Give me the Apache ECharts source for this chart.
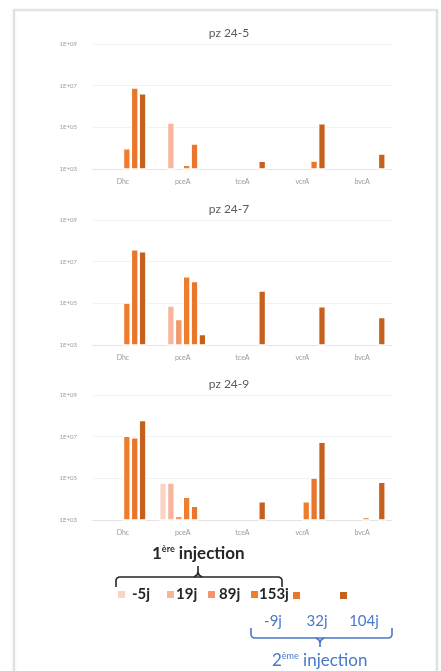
<!DOCTYPE html>
<html>
<head>
<meta charset="utf-8">
<script src="https://cdn.jsdelivr.net/npm/echarts@6/dist/echarts.min.js"></script>
<style>
  html, body { margin: 0; padding: 0; background: #fff; }
  #chart { width: 441px; height: 671px; }
</style>
</head>
<body>
<div id="chart"></div>
<script>
const categories = ["Dhc", "pceA", "tceA", "vcrA", "bvcA"];
const sampleNames = ["-5j", "19j", "89j", "153j", "32j", "104j"];
const secondInjectionLabels = ["-9j", "32j", "104j"];
const panelTitles = ["pz 24-5", "pz 24-7", "pz 24-9"];
const yMin = 1e3;
const yMax = 1e9;

// rows = sample dates (sampleNames order), columns = genes (categories order)
const pz245 = [
    [null, null, null, null, null],
    [null, 1.7e5, null, null, null],
    [null, null, null, null, null],
    [1.0e4, 1.6e3, null, null, null],
    [8.3e6, 1.7e4, null, 2.6e3, null],
    [4.4e6, null, 2.5e3, 1.6e5, 5.6e3]
];
const pz247 = [
    [null, null, null, null, null],
    [null, 7.9e4, null, null, null],
    [null, 1.8e4, null, null, null],
    [1.1e5, 2.0e6, null, null, null],
    [4.0e7, 1.2e6, null, null, null],
    [3.2e7, 3.4e3, 4.2e5, 7.3e4, 2.2e4]
];
const pz249 = [
    [null, 6.4e4, null, null, null],
    [null, 6.4e4, null, null, null],
    [null, 1.6e3, null, null, null],
    [1.1e7, 1.3e4, null, 7.9e3, 1.4e3],
    [9.4e6, 4.9e3, null, 1.1e5, null],
    [6.3e7, null, 7.9e3, 5.7e6, 6.9e4]
];

const panels = [pz245, pz247, pz249];
const colors = ["#fad3c5", "#f7b59c", "#f4956a", "#ef7d2e", "#e8762b", "#c5601f"];

const chart = echarts.init(document.getElementById("chart"));

const gridTops = [44, 220, 395];
const FONT = "Lato, 'Open Sans', sans-serif";

const grids = gridTops.map(t => ({
    left: 93, top: t, width: 299, height: 125
}));

const titles = panelTitles.map((t, i) => ({
    text: t,
    left: 229,
    textAlign: "center",
    top: gridTops[i] - 17,
    padding: 0,
    textStyle: { fontSize: 12, fontWeight: "normal", color: "#5a5a5a", fontFamily: FONT }
}));

const xAxes = panels.map((p, i) => ({
    type: "category",
    gridIndex: i,
    data: categories,
    axisTick: { show: false },
    axisLine: { lineStyle: { color: "#e4e4e4" } },
    axisLabel: { fontSize: 7, color: "#9a9a9a", margin: 9, fontFamily: FONT }
}));

const yAxes = panels.map((p, i) => ({
    type: "log",
    gridIndex: i,
    logBase: 10,
    min: yMin,
    max: yMax,
    interval: 2,
    axisLine: { show: false },
    axisTick: { show: false },
    splitLine: { lineStyle: { color: "#eef2f5" } },
    axisLabel: {
        fontSize: 6,
        color: "#9a9a9a",
        margin: 16,
        fontFamily: FONT,
        formatter: v => "1E+" + String(Math.round(Math.log10(v))).padStart(2, "0")
    }
}));

const series = [];
panels.forEach((panel, pi) => {
    panel.forEach((vals, si) => {
        series.push({
            name: sampleNames[si],
            type: "bar",
            xAxisIndex: pi,
            yAxisIndex: pi,
            data: vals.map(v => (v == null ? "-" : v)),
            barGap: "0%",
            barCategoryGap: "21%",
            clip: true,
            itemStyle: { color: colors[si], borderColor: "#fff", borderWidth: 1.3 }
        });
    });
});

// one legend per item, so the squares sit where they are in the picture
const legendLefts = [118, 167, 208, 251, 293, 340];
const legendTextPad = [2, -3, -1, -4, 0, 0];
const legends = sampleNames.map((n, i) => ({
    data: [n],
    left: legendLefts[i],
    top: i < 4 ? 587 : 592,
    padding: 0,
    icon: "rect",
    itemWidth: 7,
    itemHeight: 7,
    itemGap: 0,
    selectedMode: false,
    itemStyle: { borderWidth: 0 },
    formatter: i < 4 ? "{name}" : () => "",
    textStyle: {
        fontSize: 15, fontWeight: "bold", color: "#262626", fontFamily: FONT,
        padding: [0, 0, 0, legendTextPad[i]]
    }
}));

const BLUE = "#4a78c8";

const graphic = [
    {
        type: "rect",
        shape: { x: 14, y: 10, width: 423, height: 700 },
        style: { fill: "none", stroke: "#d2d2d2", lineWidth: 1.2, shadowBlur: 3, shadowColor: "rgba(0,0,0,0.15)" },
        silent: true
    },
    {
        type: "text",
        x: 152, y: 545,
        style: {
            text: "{a|1}{s|ère}{a| injection}",
            rich: {
                a: { fontSize: 17, fontWeight: "bold", fill: "#262626", fontFamily: FONT },
                s: { fontSize: 9, fontWeight: "bold", fill: "#262626", fontFamily: FONT, verticalAlign: "top", padding: [0, 0, 8, 0] }
            }
        }
    },
    {
        type: "polyline",
        shape: { points: [[116, 587], [116, 580], [117, 578], [119, 577], [279, 577], [281, 578], [282, 580], [282, 587]] },
        style: { fill: "none", stroke: "#262626", lineWidth: 1.6 }
    },
    {
        type: "polyline",
        shape: { points: [[194, 577], [197, 575], [198, 572], [198, 566], [198, 572], [199, 575], [202, 577]] },
        style: { fill: "none", stroke: "#262626", lineWidth: 1.6 }
    },
    {
        type: "polyline",
        shape: { points: [[251, 628], [251, 635], [252, 637], [254, 638], [389, 638], [391, 637], [392, 635], [392, 628]] },
        style: { fill: "none", stroke: BLUE, lineWidth: 1.6 }
    },
    {
        type: "polyline",
        shape: { points: [[316, 638], [319, 640], [320, 643], [320, 647], [320, 643], [321, 640], [324, 638]] },
        style: { fill: "none", stroke: BLUE, lineWidth: 1.6 }
    },
    {
        type: "text",
        x: 272, y: 652,
        style: {
            text: "{a|2}{s|ème}{a| injection}",
            rich: {
                a: { fontSize: 17, fill: BLUE, fontFamily: FONT },
                s: { fontSize: 9, fill: BLUE, fontFamily: FONT, verticalAlign: "top", padding: [0, 0, 8, 0] }
            }
        }
    }
];
const secondLabelX = [273, 317, 364];
secondInjectionLabels.forEach((t, i) => {
    graphic.push({
        type: "text",
        x: secondLabelX[i], y: 621,
        style: { text: t, fontSize: 15, fill: BLUE, fontFamily: FONT, align: "center", verticalAlign: "middle" }
    });
});

chart.setOption({
    backgroundColor: "#fff",
    animation: false,
    title: titles,
    grid: grids,
    xAxis: xAxes,
    yAxis: yAxes,
    legend: legends,
    series: series,
    graphic: graphic
});
</script>
</body>
</html>
